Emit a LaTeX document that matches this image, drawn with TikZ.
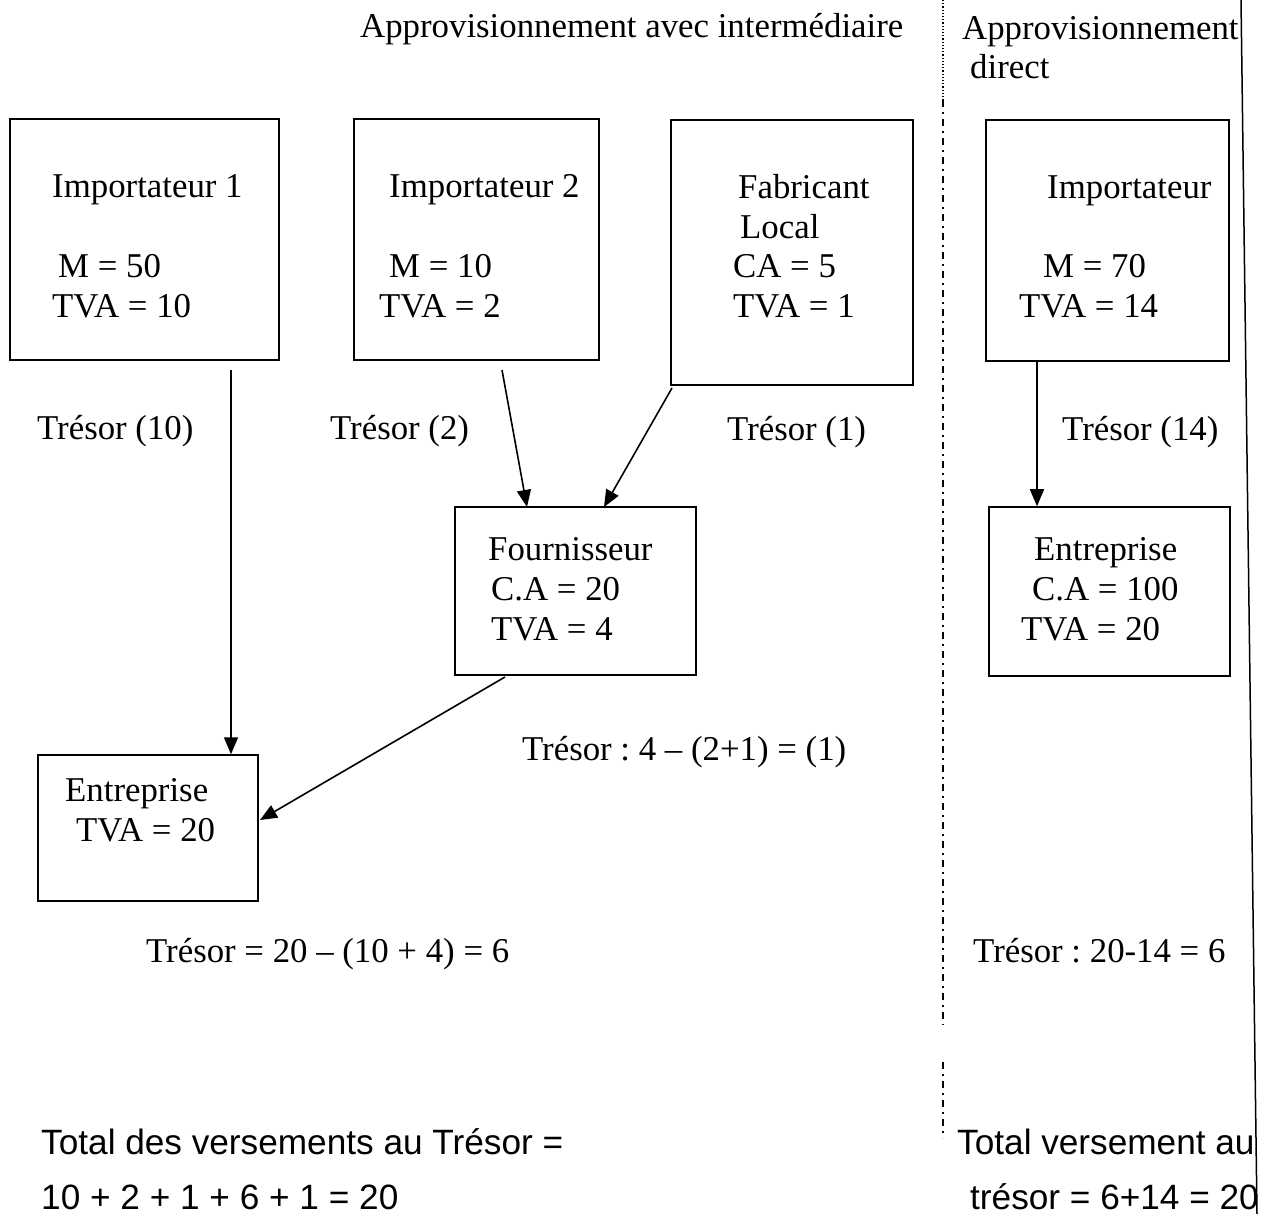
\documentclass[tikz,border=0pt]{standalone}
\usepackage{fontspec}
\setmainfont{Liberation Serif}
\setsansfont{Liberation Sans}
\usetikzlibrary{arrows.meta,fit}
\frenchspacing
\begin{document}
\begin{tikzpicture}[x=1pt,y=-1pt,
  every node/.style={font=\fontsize{34.8}{42}\selectfont},
  box/.style={draw,line width=1.5pt,inner sep=0pt},
  txt/.style={anchor=base west,inner sep=0pt},
  stxt/.style={anchor=base west,inner sep=0pt,font=\fontsize{35.2}{42}\sffamily},
  arr/.style={line width=1.6pt,-{Triangle[length=17pt,width=14pt]}}]
\useasboundingbox (0,0) rectangle (1262,1214);
\fill[white] (0,0) rectangle (1262,1214);
% separators
\draw[line width=1.2pt,dotted] (943,0) -- (943,100);
\draw[line width=1.5pt,dash pattern=on 7pt off 5pt on 2pt off 5pt] (943,100) -- (943,1025);
\draw[line width=1.5pt,dash pattern=on 7pt off 5pt on 2pt off 5pt] (943,1062) -- (943,1138);
\draw[line width=1.5pt] (1241,0) -- (1257,1214);
% titles
\node[txt] (t1) at (360,38) {Approvisionnement avec intermédiaire};
\node[txt] (t2) at (962,40) {Approvisionnement};
\node[txt] (t3) at (970,79) {direct};
% boxes
\node[box,fit={(10,119) (279,360)}] (imp1) {};
\node[box,fit={(354,119) (599,360)}] (imp2) {};
\node[box,fit={(671,120) (913,385)}] (fab) {};
\node[box,fit={(986,120) (1229,361)}] (impr) {};
\node[box,fit={(455,507) (696,675)}] (four) {};
\node[box,fit={(38,755) (258,901)}] (ent1) {};
\node[box,fit={(989,507) (1230,676)}] (entr) {};
% box texts
\node[txt] (i1a) at (52,198) {Importateur 1};
\node[txt] (i1b) at (58,278) {M = 50};
\node[txt] (i1c) at (52,318) {TVA = 10};
\node[txt] (i2a) at (389,198) {Importateur 2};
\node[txt] (i2b) at (389,278) {M = 10};
\node[txt] (i2c) at (379,318) {TVA = 2};
\node[txt] (fa) at (738,199) {Fabricant};
\node[txt] (fb) at (740,239) {Local};
\node[txt] (fc) at (733,278) {CA = 5};
\node[txt] (fd) at (733,318) {TVA = 1};
\node[txt] (ira) at (1047,199) {Importateur};
\node[txt] (irb) at (1043,278) {M = 70};
\node[txt] (irc) at (1019,318) {TVA = 14};
\node[txt] (foa) at (488,561) {Fournisseur};
\node[txt] (fob) at (491,600) {C.A = 20};
\node[txt] (foc) at (491,640) {TVA = 4};
\node[txt] (e1a) at (65,801) {Entreprise};
\node[txt] (e1b) at (76,841) {TVA = 20};
\node[txt] (era) at (1034,561) {Entreprise};
\node[txt] (erb) at (1032,600) {C.A = 100};
\node[txt] (erc) at (1021,640) {TVA = 20};
% connector start points
\coordinate (s1) at (231,370);
\coordinate (s2) at (502,370);
\coordinate (s3) at (672,388);
\coordinate (s4) at (505,677);
\coordinate (s5) at (1037,362);
\coordinate (e2) at (527,507);
\coordinate (e3) at (604,507);
\coordinate (e4) at (260,820);
\draw[arr] (s1) -- (s1 |- ent1.north);
\draw[arr] (s2) -- (e2);
\draw[arr] (s3) -- (e3);
\draw[arr] (s4) -- (e4);
\draw[arr] (s5) -- (s5 |- entr.north);
% labels
\node[txt] (l1) at (37,440) {Trésor (10)};
\node[txt] (l2) at (330,440) {Trésor (2)};
\node[txt] (l3) at (727,441) {Trésor (1)};
\node[txt] (l4) at (1062,441) {Trésor (14)};
\node[txt] (l5) at (522,760) {Trésor : 4 -- (2+1) = (1)};
\node[txt] (l6) at (146,962) {Trésor = 20 -- (10 + 4) = 6};
\node[txt] (l7) at (973,962) {Trésor : 20-14 = 6};
\node[stxt] (b1) at (41,1154) {Total des versements au Trésor =};
\node[stxt] (b2) at (41,1209) {10 + 2 + 1 + 6 + 1 = 20};
\node[stxt] (b3) at (957,1154) {Total versement au};
\node[stxt] (b4) at (970,1209) {trésor = 6+14 = 20};
\end{tikzpicture}
\end{document}
